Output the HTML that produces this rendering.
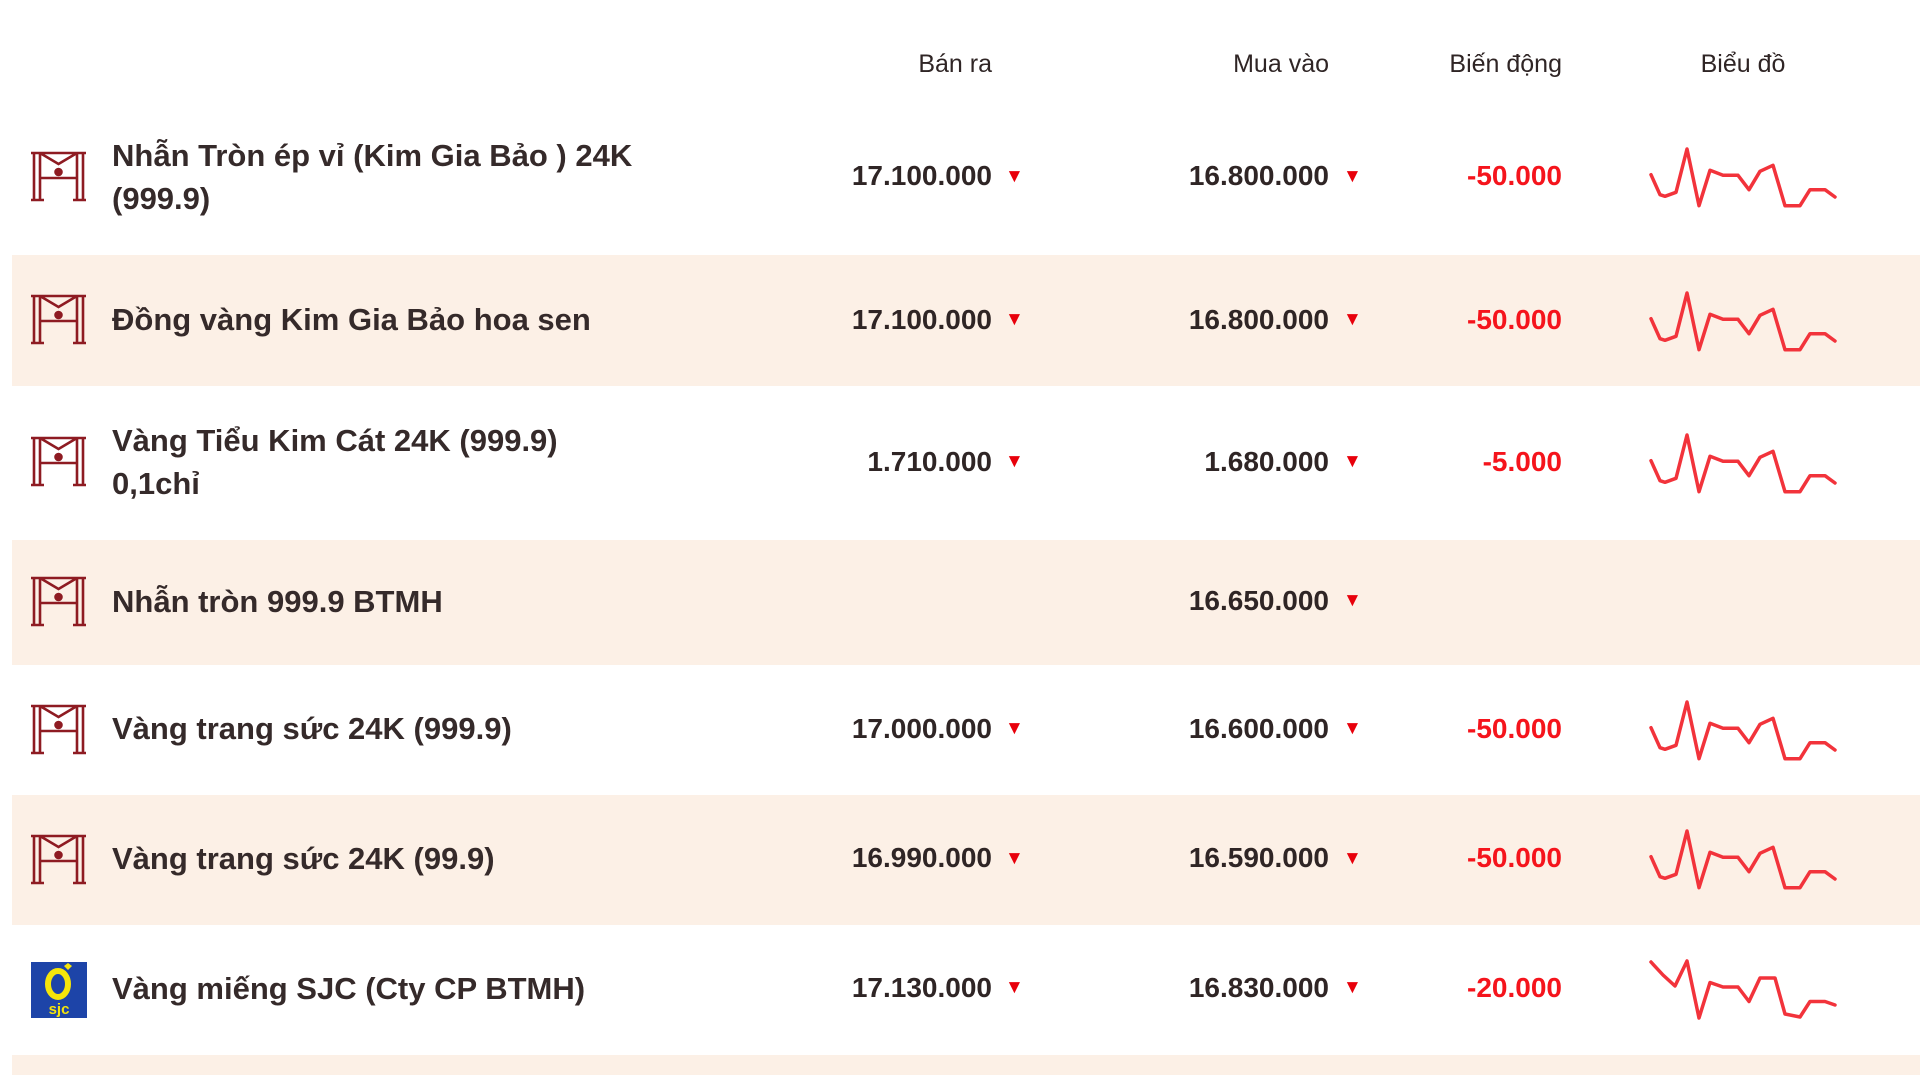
<!DOCTYPE html>
<html><head><meta charset="utf-8">
<style>
*{margin:0;padding:0;box-sizing:border-box}
body{width:1920px;height:1069px;background:#fff;position:relative;overflow:hidden;font-family:"Liberation Sans","DejaVu Sans",sans-serif;color:#2f2525}
.band{position:absolute;left:12px;right:0;background:#fcf0e6}
.h{position:absolute;top:50px;font-size:25px;line-height:28px;color:#2f2525}
.name{position:absolute;left:112px;font-size:31px;font-weight:bold;line-height:43px;color:#352a2a}
.num{position:absolute;font-size:28px;font-weight:bold;line-height:32px;text-align:right;width:260px}
.tri{position:absolute;color:#e8000b;font-size:19px;line-height:20px}
.chg{color:#f5141c}
.logo{position:absolute;left:31px}
svg.sp{position:absolute;left:1600px}
</style></head><body>
<div class="band" style="top:255px;height:131px"></div>
<div class="band" style="top:540px;height:125px"></div>
<div class="band" style="top:795px;height:130px"></div>
<div class="band" style="top:1055px;height:20px"></div>

<div class="h" style="left:792px;width:200px;text-align:right">Bán ra</div>
<div class="h" style="left:1129px;width:200px;text-align:right">Mua vào</div>
<div class="h" style="left:1362px;width:200px;text-align:right">Biến động</div>
<div class="h" style="left:1643px;width:200px;text-align:center">Biểu đồ</div>

<svg width="0" height="0" style="position:absolute">
<defs>
<g id="hm" fill="none" stroke="#8e1b22" stroke-width="2.6">
<path d="M0 3 H55 M3 3 V50 M9 3 V50 M46 3 V50 M52 3 V50 M0 50 H13 M42 50 H55 M9 3 L27.5 14 L46 3 M9 28 H46" />
<circle cx="27.5" cy="22" r="3" fill="#8e1b22"/>
</g>
<polyline id="s1" fill="none" stroke="#f2333b" stroke-width="3.5" stroke-linejoin="round" stroke-linecap="round"
points="51,58.7 60,78.7 65,80.3 76,76.3 87,33 99,89.7 110,54.3 123,59.3 138,59.3 149,73.7 160,55.3 173,49.3 185,89.7 200,89.7 210,73.7 225,73.7 235,81"/>
</defs></svg>

<!-- Row 1 -->
<svg class="logo" style="top:150px" width="56" height="54"><use href="#hm"/></svg>
<div class="name" style="top:134px">Nhẫn Tròn ép vỉ (Kim Gia Bảo ) 24K<br>(999.9)</div>
<div class="num" style="left:732px;top:160px">17.100.000</div><div class="tri" style="left:1005px;top:167px">▼</div>
<div class="num" style="left:1069px;top:160px">16.800.000</div><div class="tri" style="left:1343px;top:167px">▼</div>
<div class="num chg" style="left:1302px;top:160px">-50.000</div>
<svg class="sp" style="top:116px" width="320" height="120"><use href="#s1"/></svg>

<!-- Row 2 -->
<svg class="logo" style="top:293px" width="56" height="54"><use href="#hm"/></svg>
<div class="name" style="top:298px">Đồng vàng Kim Gia Bảo hoa sen</div>
<div class="num" style="left:732px;top:304px">17.100.000</div><div class="tri" style="left:1005px;top:310px">▼</div>
<div class="num" style="left:1069px;top:304px">16.800.000</div><div class="tri" style="left:1343px;top:310px">▼</div>
<div class="num chg" style="left:1302px;top:304px">-50.000</div>
<svg class="sp" style="top:260px" width="320" height="120"><use href="#s1"/></svg>

<!-- Row 3 -->
<svg class="logo" style="top:435px" width="56" height="54"><use href="#hm"/></svg>
<div class="name" style="top:419px">Vàng Tiểu Kim Cát 24K (999.9)<br>0,1chỉ</div>
<div class="num" style="left:732px;top:446px">1.710.000</div><div class="tri" style="left:1005px;top:452px">▼</div>
<div class="num" style="left:1069px;top:446px">1.680.000</div><div class="tri" style="left:1343px;top:452px">▼</div>
<div class="num chg" style="left:1302px;top:446px">-5.000</div>
<svg class="sp" style="top:402px" width="320" height="120"><use href="#s1"/></svg>

<!-- Row 4 -->
<svg class="logo" style="top:575px" width="56" height="54"><use href="#hm"/></svg>
<div class="name" style="top:580px">Nhẫn tròn 999.9 BTMH</div>
<div class="num" style="left:1069px;top:585px">16.650.000</div><div class="tri" style="left:1343px;top:591px">▼</div>

<!-- Row 5 -->
<svg class="logo" style="top:703px" width="56" height="54"><use href="#hm"/></svg>
<div class="name" style="top:707px">Vàng trang sức 24K (999.9)</div>
<div class="num" style="left:732px;top:713px">17.000.000</div><div class="tri" style="left:1005px;top:719px">▼</div>
<div class="num" style="left:1069px;top:713px">16.600.000</div><div class="tri" style="left:1343px;top:719px">▼</div>
<div class="num chg" style="left:1302px;top:713px">-50.000</div>
<svg class="sp" style="top:669px" width="320" height="120"><use href="#s1"/></svg>

<!-- Row 6 -->
<svg class="logo" style="top:833px" width="56" height="54"><use href="#hm"/></svg>
<div class="name" style="top:837px">Vàng trang sức 24K (99.9)</div>
<div class="num" style="left:732px;top:842px">16.990.000</div><div class="tri" style="left:1005px;top:849px">▼</div>
<div class="num" style="left:1069px;top:842px">16.590.000</div><div class="tri" style="left:1343px;top:849px">▼</div>
<div class="num chg" style="left:1302px;top:842px">-50.000</div>
<svg class="sp" style="top:798px" width="320" height="120"><use href="#s1"/></svg>

<!-- Row 7 SJC -->
<svg class="logo" style="top:962px" width="56" height="56">
<rect width="56" height="56" fill="#1d44a8"/>
<ellipse cx="27" cy="22" rx="10" ry="13" fill="none" stroke="#f5e50a" stroke-width="6"/>
<path d="M33 4 l4 -3 l4 3 l-4 4z" fill="#f5e50a"/>
<text x="28" y="52" font-family="Liberation Sans,sans-serif" font-size="15" font-weight="bold" fill="#f5e50a" text-anchor="middle">sjc</text>
</svg>
<div class="name" style="top:967px">Vàng miếng SJC (Cty CP BTMH)</div>
<div class="num" style="left:732px;top:972px">17.130.000</div><div class="tri" style="left:1005px;top:978px">▼</div>
<div class="num" style="left:1069px;top:972px">16.830.000</div><div class="tri" style="left:1343px;top:978px">▼</div>
<div class="num chg" style="left:1302px;top:972px">-20.000</div>
<svg class="sp" style="top:928px" width="320" height="120">
<polyline fill="none" stroke="#f2333b" stroke-width="3.5" stroke-linejoin="round" stroke-linecap="round"
points="51,34 63,47 75,58 87,33 99,90 110,54.5 123,59 138,59 149,73.5 160,50 175,50 185,86 200,89 210,73.5 225,73.5 235,77"/>
</svg>
</body></html>
